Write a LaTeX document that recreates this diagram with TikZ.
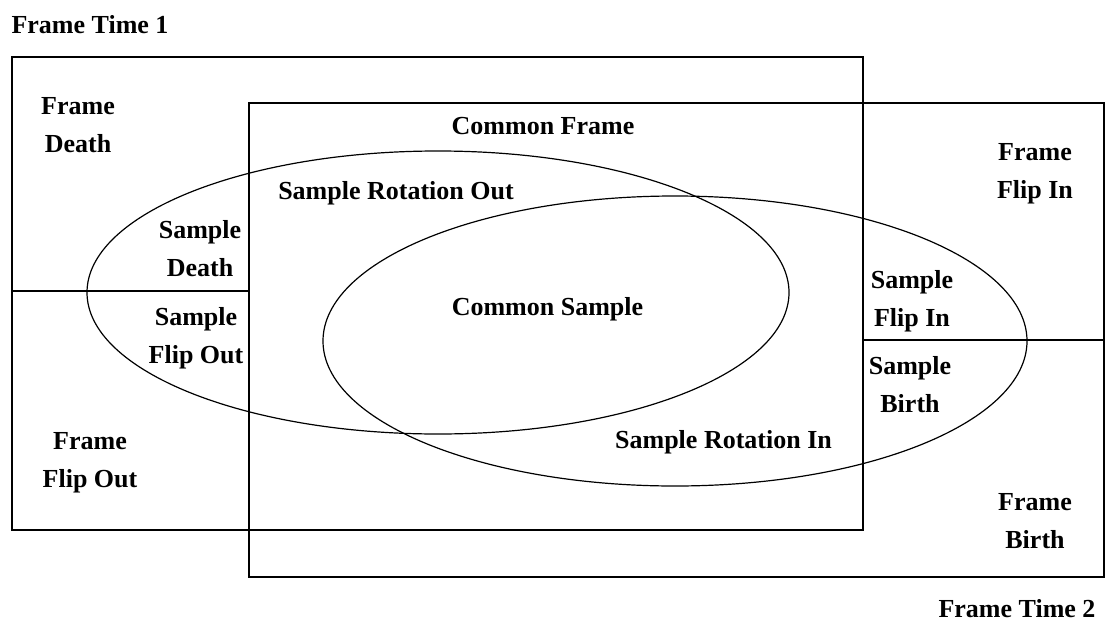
\documentclass[tikz,border=0pt]{standalone}
\usepackage{fontspec}
\setmainfont{Liberation Serif}
\begin{document}
\begin{tikzpicture}[x=1pt,y=-1pt,
  box/.style={draw=black,line width=1.2pt},
  sep/.style={draw=black,line width=1.2pt},
  oval/.style={draw=black,line width=1.2pt},
  lbl/.style={font=\fontsize{26}{38}\selectfont\bfseries,align=center,inner sep=0pt}]
\useasboundingbox (0,0) rectangle (1105,621);
\path[fill=white] (0,0) rectangle (1105,621);
% frames
\draw[box] (12,57) rectangle (863,530);
\draw[box] (249,103) rectangle (1104,577);
\coordinate (l1) at (12,291);
\coordinate (l2) at (249,291);
\coordinate (r1) at (863,340);
\coordinate (r2) at (1104,340);
\draw[sep] (l1) -- (l2);
\draw[sep] (r1) -- (r2);
% samples
\draw[oval] (438,292.5) ellipse [x radius=351, y radius=141.5];
\draw[oval] (675,341) ellipse [x radius=352, y radius=145];
% labels
\node[lbl,anchor=base] (ft1) at (90,33) {Frame Time 1};
\node[lbl,anchor=base] (ft2) at (1017,617) {Frame Time 2};
\node[lbl,anchor=base] (cf) at (543,134) {Common Frame};
\node[lbl,anchor=base] (sro) at (396,199) {Sample Rotation Out};
\node[lbl,anchor=base] (cs) at (547.5,315) {Common Sample};
\node[lbl,anchor=base] (sri) at (723.5,448) {Sample Rotation In};
\node[lbl] (fd) at (78,125) {Frame\\Death};
\node[lbl] (ffi) at (1035,173.5) {Frame\\Flip In};
\node[lbl] (sd) at (200,249) {Sample\\Death};
\node[lbl] (sfo) at (196,338) {Sample\\Flip Out};
\node[lbl] (sfi) at (912,301) {Sample\\Flip In};
\node[lbl] (sb) at (910,385) {Sample\\Birth};
\node[lbl] (ffo) at (90,463) {Frame\\Flip Out};
\node[lbl] (fb) at (1035,521) {Frame\\Birth};
\end{tikzpicture}
\end{document}
